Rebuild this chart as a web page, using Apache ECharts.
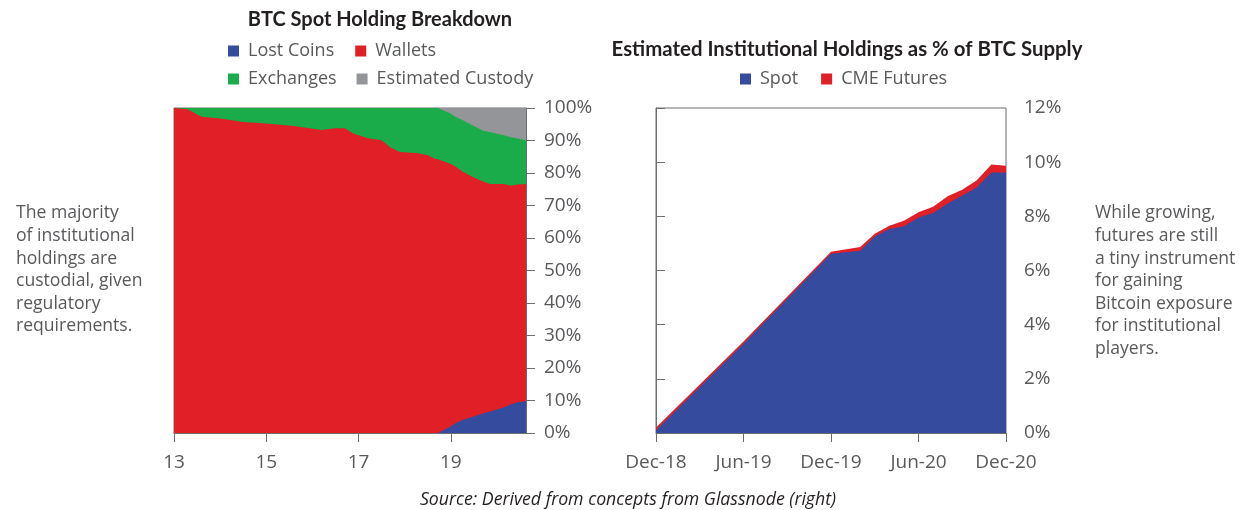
<!DOCTYPE html>
<html lang="en">
<head>
    <meta charset="UTF-8">
    <title>btc holdings</title>
    <script src="https://cdn.jsdelivr.net/npm/echarts@6/dist/echarts.min.js"></script>
    <style>
        html, body { margin: 0; padding: 0; background: #fff; }
        #chart { width: 1248px; height: 510px; }
    </style>
</head>
<body>
<div id="chart"></div>
<script>
    // left chart: share of BTC supply (%), x = year (13 = 2013)
    var years = [13.0, 13.3, 13.5, 13.6, 14.0, 14.5, 15.0, 15.6, 16.2, 16.5, 16.7, 16.9, 17.2, 17.5, 17.7, 17.9,
        18.3, 18.5, 18.65, 18.72, 19.0, 19.1, 19.25, 19.5, 19.7, 19.85, 20.0, 20.15, 20.3, 20.45, 20.63];
    var lostCoins = [0, 0, 0, 0, 0, 0, 0, 0, 0, 0, 0, 0, 0, 0, 0, 0,
        0, 0, 0, 0, 2.0, 3.0, 4.0, 5.1, 6.0, 6.6, 7.2, 7.9, 8.8, 9.5, 9.8];
    var wallets = [100, 99.6, 98.0, 97.3, 96.8, 95.7, 95.2, 94.5, 93.2, 93.8, 93.8, 92.1, 90.7, 90.1, 87.8, 86.5,
        86.1, 85.5, 84.4, 84.2, 80.8, 79.0, 76.5, 73.5, 71.4, 70.0, 69.4, 68.7, 67.3, 67.0, 66.8];
    var exchanges = [0, 0.4, 2.0, 2.7, 3.2, 4.3, 4.8, 5.5, 6.8, 6.2, 6.2, 7.9, 9.3, 9.9, 12.2, 13.5,
        13.9, 14.5, 15.6, 15.8, 15.4, 15.3, 15.8, 15.9, 15.6, 16.0, 15.5, 15.0, 14.9, 14.1, 13.5];
    var custody = [0, 0, 0, 0, 0, 0, 0, 0, 0, 0, 0, 0, 0, 0, 0, 0,
        0, 0, 0, 0, 1.8, 2.7, 3.7, 5.5, 7.0, 7.4, 7.9, 8.4, 9.0, 9.4, 9.9];
    var yearTicks = [13, 15, 17, 19];

    // right chart: % of BTC supply, x = months since Dec-18
    var months = [0, 6, 12, 14, 15, 16, 17, 18, 19, 20, 21, 22, 23, 24];
    var spot = [0.1, 3.3, 6.62, 6.73, 7.26, 7.53, 7.63, 7.96, 8.12, 8.47, 8.77, 9.07, 9.62, 9.62];
    var cmeFutures = [0.1, 0.08, 0.07, 0.14, 0.1, 0.12, 0.21, 0.19, 0.23, 0.27, 0.21, 0.26, 0.29, 0.25];
    var monthLabels = ['Dec-18', 'Jun-19', 'Dec-19', 'Jun-20', 'Dec-20'];

    var leftNote = ['The majority', 'of institutional', 'holdings are', 'custodial, given', 'regulatory', 'requirements.'];
    var rightNote = ['While growing,', 'futures are still', 'a tiny instrument', 'for gaining', 'Bitcoin exposure',
        'for institutional', 'players.'];
    var sourceText = 'Source: Derived from concepts from Glassnode (right)';

    var FONT = '"Open Sans"';
    var BOLD_FONT = 'Lato';
    var GREY = '#58595b';
    var BLUE = '#354c9e', RED = '#e01f26', GREEN = '#1aab4b', SILVER = '#939598';

    // running totals so each layer sits on the ones below it
    function cumulate(layers) {
        var out = [];
        var run = layers[0].map(function () { return 0; });
        layers.forEach(function (layer) {
            run = run.map(function (v, i) { return v + layer[i]; });
            out.push(run);
        });
        return out;
    }

    function pairs(xs, ys) {
        var out = [];
        for (var i = 0; i < xs.length; i++) {
            out.push([xs[i], +ys[i].toFixed(3)]);
        }
        return out;
    }

    function area(name, color, idx, xs, ys) {
        return {
            name: name,
            type: 'line',
            xAxisIndex: idx,
            yAxisIndex: idx,
            showSymbol: false,
            symbol: 'none',
            lineStyle: { width: 0 },
            areaStyle: { color: color, opacity: 1 },
            itemStyle: { color: color },
            silent: true,
            data: pairs(xs, ys)
        };
    }

    var leftCum = cumulate([lostCoins, wallets, exchanges, custody]);
    var rightCum = cumulate([spot, cmeFutures]);

    var axisText = { color: GREY, fontFamily: FONT, fontSize: 19 };
    var axisLine = { show: true, lineStyle: { color: '#6d6e71', width: 1 } };
    var tick = { show: true, length: 9, lineStyle: { color: '#6d6e71' } };

    function legend(items, left, top, gap) {
        return {
            data: items,
            left: left,
            top: top,
            icon: 'rect',
            itemWidth: 11,
            itemHeight: 11,
            itemGap: gap,
            selectedMode: false,
            textStyle: { color: GREY, fontFamily: FONT, fontSize: 18, padding: [0, 0, 0, 4] }
        };
    }

    function note(lines, left) {
        return {
            type: 'text',
            left: left,
            top: 202,
            style: {
                text: lines.join('\n'),
                fill: GREY,
                font: '17.6px ' + FONT,
                lineHeight: 22.6
            }
        };
    }

    var chart = echarts.init(document.getElementById('chart'));
    chart.setOption({
        animation: false,
        title: [
            {
                text: 'BTC Spot Holding Breakdown',
                left: 375, top: 5, textAlign: 'center',
                textStyle: { color: '#231f20', fontFamily: BOLD_FONT, fontSize: 20, fontWeight: 'bold' }
            },
            {
                text: 'Estimated Institutional Holdings as % of BTC Supply',
                left: 842, top: 34, textAlign: 'center',
                textStyle: { color: '#231f20', fontFamily: BOLD_FONT, fontSize: 20.4, fontWeight: 'bold' }
            },
            {
                text: sourceText,
                left: 623, top: 486, textAlign: 'center',
                textStyle: { color: '#231f20', fontFamily: FONT, fontSize: 17.7, fontStyle: 'italic', fontWeight: 'normal' }
            }
        ],
        legend: [
            legend(['Lost Coins', 'Wallets'], 223, 37, 21),
            legend(['Exchanges', 'Estimated Custody'], 223, 65, 20),
            legend(['Spot', 'CME Futures'], 735, 65, 23)
        ],
        grid: [
            { left: 174, right: 722, top: 108, bottom: 77, show: true, borderColor: '#6d6e71', borderWidth: 1 },
            { left: 656, right: 242, top: 108, bottom: 77, show: true, borderColor: '#6d6e71', borderWidth: 1 }
        ],
        xAxis: [
            {
                type: 'value', gridIndex: 0, min: 13, max: 20.63,
                splitLine: { show: false },
                axisLine: axisLine,
                axisTick: { show: true, length: 9, lineStyle: { color: '#6d6e71' }, customValues: yearTicks },
                axisLabel: Object.assign({ margin: 20, customValues: yearTicks }, axisText)
            },
            {
                type: 'value', gridIndex: 1, min: 0, max: 24, interval: 6,
                splitLine: { show: false },
                axisLine: axisLine,
                axisTick: tick,
                axisLabel: Object.assign({
                    margin: 20,
                    formatter: function (v) { return monthLabels[Math.round(v / 6)]; }
                }, axisText)
            }
        ],
        yAxis: [
            {
                type: 'value', gridIndex: 0, position: 'right', min: 0, max: 100, interval: 10,
                splitLine: { show: false },
                axisLine: axisLine,
                axisTick: tick,
                axisLabel: Object.assign({ margin: 18, formatter: '{value}%' }, axisText)
            },
            {
                type: 'value', gridIndex: 1, position: 'right', min: 0, max: 12, interval: 2,
                splitLine: { show: false },
                axisLine: axisLine,
                axisTick: tick,
                axisLabel: Object.assign({ margin: 18, formatter: '{value}%' }, axisText)
            }
        ],
        graphic: [note(leftNote, 16), note(rightNote, 1095)],
        // drawn top layer first, so lower layers paint over it
        series: [
            area('Estimated Custody', SILVER, 0, years, leftCum[3]),
            area('Exchanges', GREEN, 0, years, leftCum[2]),
            area('Wallets', RED, 0, years, leftCum[1]),
            area('Lost Coins', BLUE, 0, years, leftCum[0]),
            area('CME Futures', RED, 1, months, rightCum[1]),
            area('Spot', BLUE, 1, months, rightCum[0])
        ]
    });
</script>
</body>
</html>
